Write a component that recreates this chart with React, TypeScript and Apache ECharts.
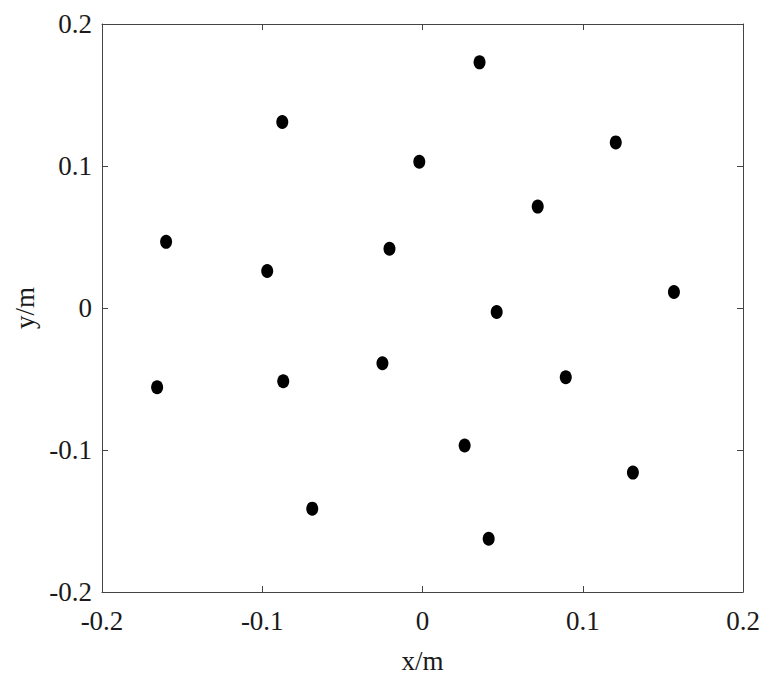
import React, { useEffect, useRef } from "react";
import * as echarts from "echarts";

const xValues = [0.0356, -0.0875, -0.002, 0.1206, 0.0719, -0.16, -0.0206, -0.0969, 0.1569, 0.0463, -0.1656, -0.0869, -0.025, 0.0894, 0.0263, 0.1313, -0.0688, 0.0413];
const yValues = [0.173, 0.131, 0.103, 0.1166, 0.0714, 0.0466, 0.0417, 0.0261, 0.0113, -0.0028, -0.0558, -0.0516, -0.0389, -0.0488, -0.0968, -0.1159, -0.1413, -0.1625];
const xTitle = "x/m";
const yTitle = "y/m";

const FONT = "'Liberation Serif', 'Times New Roman', serif";
const TEXT = "#1a1a1a";
const LINE = "#444444";

function fmt(v: number) {
  if (Math.abs(v) < 1e-9) return "0";
  return String(Math.round(v * 10) / 10);
}

export default function App() {
  const ref = useRef<HTMLDivElement>(null);
  useEffect(() => {
    if (!ref.current) return;
    const chart = echarts.init(ref.current, undefined, { renderer: "svg" });
    const axisCommon = {
      type: "value" as const,
      min: -0.2,
      max: 0.2,
      interval: 0.1,
      splitLine: { show: false },
      axisLine: { show: true, onZero: false, lineStyle: { color: LINE, width: 1 } },
      axisTick: { show: true, inside: true, length: 6, lineStyle: { color: LINE, width: 1 } },
    };
    chart.setOption({
      animation: false,
      backgroundColor: "#ffffff",
      grid: { left: 102, top: 24, right: 30, bottom: 100, containLabel: false },
      xAxis: [
        {
          ...axisCommon,
          position: "bottom",
          name: xTitle,
          nameLocation: "middle",
          nameGap: 55,
          nameTextStyle: { fontFamily: FONT, fontSize: 27, color: TEXT },
          axisLabel: { fontFamily: FONT, fontSize: 27, color: TEXT, margin: 15, formatter: fmt },
        },
        {
          ...axisCommon,
          position: "top",
          axisLabel: { show: false },
        },
      ],
      yAxis: [
        {
          ...axisCommon,
          position: "left",
          name: yTitle,
          nameLocation: "middle",
          nameGap: 55,
          nameTextStyle: { fontFamily: FONT, fontSize: 27, color: TEXT },
          axisLabel: { fontFamily: FONT, fontSize: 27, color: TEXT, margin: 10, formatter: fmt },
        },
        {
          ...axisCommon,
          position: "right",
          axisLabel: { show: false },
        },
      ],
      series: [
        {
          type: "scatter",
          xAxisIndex: 0,
          yAxisIndex: 0,
          symbol: "circle",
          symbolSize: [12, 14],
          itemStyle: { color: "#000000", opacity: 1 },
          data: xValues.map((x, i) => [x, yValues[i]]),
        },
      ],
    });
    return () => chart.dispose();
  }, []);
  return (
    <div
      ref={ref}
      style={{ position: "fixed", left: 0, top: 0, width: 773, height: 692, background: "#fff" }}
    />
  );
}
